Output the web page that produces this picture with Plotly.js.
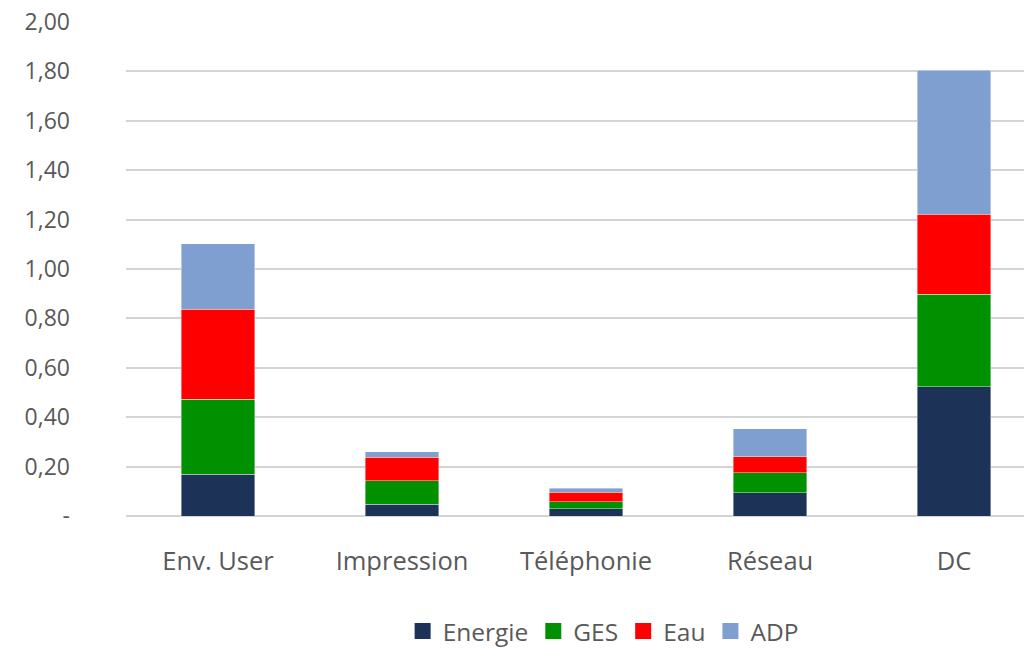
<!DOCTYPE html>
<html>
<head>
<meta charset="utf-8">
<script src="https://cdn.plot.ly/plotly-3.0.1.min.js"></script>
<style>
  html, body { margin: 0; padding: 0; background: #ffffff; }
  #chart { width: 1024px; height: 658px; }
</style>
</head>
<body>
<div id="chart"></div>
<script>
const categories = ["Env. User", "Impression", "Téléphonie", "Réseau", "DC"];
const energie = [0.17, 0.047, 0.029, 0.094, 0.524];
const ges     = [0.303, 0.096, 0.029, 0.081, 0.373];
const eau     = [0.364, 0.094, 0.039, 0.065, 0.325];
const adp     = [0.266, 0.023, 0.016, 0.114, 0.582];
const seriesNames = ["Energie", "GES", "Eau", "ADP"];
const seriesColors = ["#1c3257", "#009000", "#ff0000", "#7f9fd0"];
const yTickVals = [0, 0.2, 0.4, 0.6, 0.8, 1.0, 1.2, 1.4, 1.6, 1.8, 2.0];
const yTickText = ["-", "0,20", "0,40", "0,60", "0,80", "1,00", "1,20", "1,40", "1,60", "1,80", "2,00"];

const values = [energie, ges, eau, adp];
const traces = values.map((v, i) => ({
  type: "bar",
  name: seriesNames[i],
  x: categories,
  y: v,
  showlegend: false,
  marker: { color: seriesColors[i], line: { color: "rgba(255,255,255,0.5)", width: 0.8 } },
  hoverinfo: "none"
}));
// legend entries with larger square symbols
seriesNames.forEach((n, i) => {
  traces.push({
    type: "scatter",
    mode: "markers",
    name: n,
    x: [null],
    y: [null],
    marker: { symbol: "square", size: 18, color: seriesColors[i] },
    showlegend: true,
    hoverinfo: "none"
  });
});

const fontFam = "'Open Sans', 'Noto Sans', sans-serif";
const layout = {
  width: 1024,
  height: 658,
  margin: { l: 126, r: 0, t: 22, b: 141.5 },
  paper_bgcolor: "#ffffff",
  plot_bgcolor: "#ffffff",
  barmode: "stack",
  bargap: 0.6,
  font: { family: fontFam, color: "#595959", size: 23 },
  xaxis: {
    type: "category",
    range: [-0.5, 4.38],
    showgrid: false,
    zeroline: false,
    showline: false,
    ticks: "",
    tickfont: { size: 25.5, color: "#595959" },
    ticklabelstandoff: 27,
    fixedrange: true
  },
  yaxis: {
    range: [0, 2.0],
    tickvals: yTickVals,
    ticktext: yTickText,
    showgrid: true,
    gridcolor: "#d4d4d4",
    gridwidth: 2,
    zeroline: true,
    zerolinecolor: "#d4d4d4",
    zerolinewidth: 2,
    showline: false,
    ticks: "",
    tickfont: { size: 23, color: "#595959" },
    ticklabelstandoff: 55,
    fixedrange: true
  },
  showlegend: true,
  legend: {
    orientation: "h",
    xref: "container",
    yref: "container",
    x: 0.589,
    xanchor: "center",
    y: 0.041,
    yanchor: "middle",
    font: { size: 24.5, color: "#595959" },
    traceorder: "normal",
    itemclick: false,
    itemdoubleclick: false
  }
};

Plotly.newPlot("chart", traces, layout, { displayModeBar: false, staticPlot: true });
</script>
</body>
</html>
